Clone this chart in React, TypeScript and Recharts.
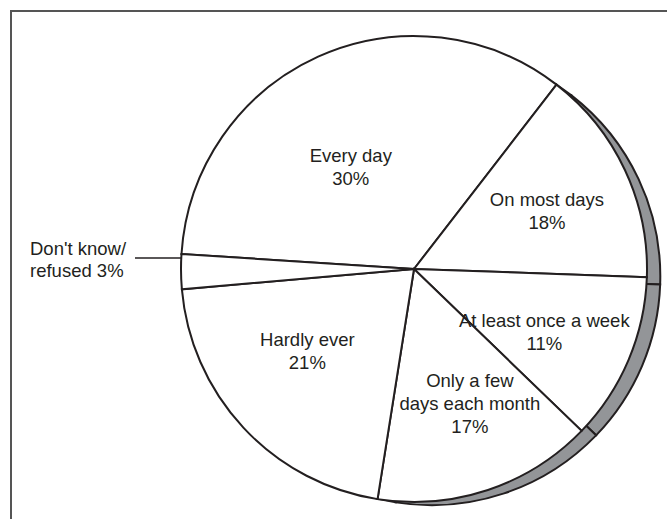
import { PieChart, Pie, Cell } from 'recharts'

// slices in clockwise order starting from the left edge
const categories = [
  'Every day',
  'On most days',
  'At least once a week',
  'Only a few days each month',
  'Hardly ever',
  "Don't know/refused",
]

// share of the circle as drawn in the picture (degrees)
const drawnShares = [124, 54.3, 42, 55, 76, 8.7]

// percentages printed on the chart
const pctLabels = ['30%', '18%', '11%', '17%', '21%', '3%']

// label text lines per slice
const labelLines = [
  ['Every day', '30%'],
  ['On most days', '18%'],
  ['At least once a week', '11%'],
  ['Only a few', 'days each month', '17%'],
  ['Hardly ever', '21%'],
  ["Don't know/", 'refused 3%'],
]

const chartData = categories.map((name, i) => ({
  name,
  value: drawnShares[i],
  pct: pctLabels[i],
}))

const RADIAN = Math.PI / 180
const START = 176.3
const CX = 409
const CY = 264
const R = 233

// label placement tweaks: radius and angle shift from the slice middle
const LABEL_TWEAK = [
  { r: 120, da: 7.5 },
  { r: 145, da: -1.6 },
  { r: 145, da: -3 },
  { r: 146, da: 4 },
  { r: 135, da: -5.2 },
]

const TEXT = '#231f20'
const FONT = '"Liberation Sans", Arial, Helvetica, sans-serif'
const FS = 18.5
const LH = 23

const renderLabel = (props: any) => {
  const { cx, cy, midAngle, index } = props
  const lines = labelLines[index]
  if (index === 5) {
    // outside label with leader line
    const y0 = cy - 11
    return (
      <g>
        <line x1={135} y1={y0} x2={cx - R} y2={y0} stroke={TEXT} strokeWidth={1.5} />
        <text x={30} y={y0 - 3} fill={TEXT} fontSize={FS} fontFamily={FONT}>
          {lines.map((t, k) => (
            <tspan key={k} x={30} dy={k === 0 ? 0 : 22}>{t}</tspan>
          ))}
        </text>
      </g>
    )
  }
  const tw = LABEL_TWEAK[index]
  const a = (midAngle + tw.da) * RADIAN
  const x = cx + tw.r * Math.cos(-a)
  const y = cy + tw.r * Math.sin(-a)
  const top = y - ((lines.length - 1) * LH) / 2 + 6
  return (
    <text x={x} y={top} fill={TEXT} fontSize={FS} fontFamily={FONT} textAnchor="middle">
      {lines.map((t, k) => (
        <tspan key={k} x={x} dy={k === 0 ? 0 : LH}>{t}</tspan>
      ))}
    </text>
  )
}

export default function App() {
  return (
    <div style={{ position: 'absolute', left: 0, top: 0, width: 667, height: 519, overflow: 'hidden', background: '#fff' }}>
      <div
        style={{
          position: 'absolute',
          left: 10,
          top: 10,
          width: 700,
          height: 600,
          border: '2px solid #555',
        }}
      />
      <div style={{ position: 'absolute', left: 0, top: 0 }}>
        <PieChart width={667} height={519}>
          {/* shadow / rim */}
          <Pie
            data={chartData}
            dataKey="value"
            cx={CX + 17.5}
            cy={CY + 7.4}
            outerRadius={R - 4.2}
            startAngle={START}
            endAngle={START - 360}
            stroke={TEXT}
            strokeWidth={2}
            isAnimationActive={false}
            label={false}
            labelLine={false}
          >
            {chartData.map((d) => (
              <Cell key={d.name} fill="#939598" />
            ))}
          </Pie>
          <Pie
            data={chartData}
            dataKey="value"
            cx={CX}
            cy={CY}
            outerRadius={R}
            startAngle={START}
            endAngle={START - 360}
            stroke={TEXT}
            strokeWidth={2}
            isAnimationActive={false}
            label={renderLabel}
            labelLine={false}
          >
            {chartData.map((d) => (
              <Cell key={d.name} fill="#ffffff" />
            ))}
          </Pie>
        </PieChart>
      </div>
    </div>
  )
}
